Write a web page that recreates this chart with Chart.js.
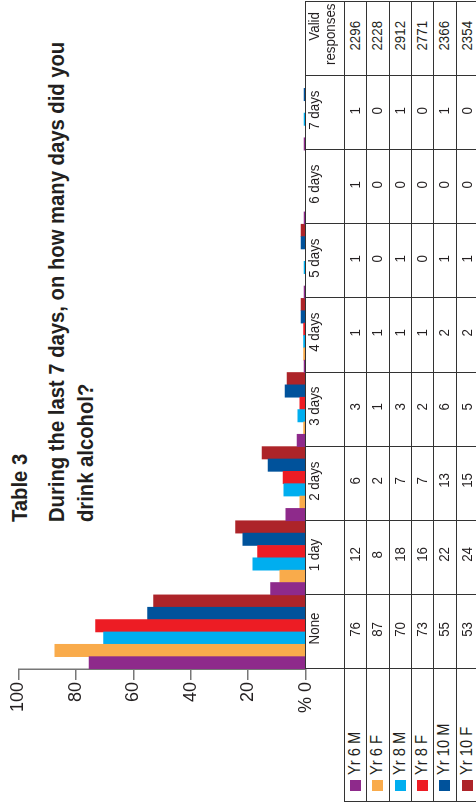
<!DOCTYPE html>
<html>
<head>
<meta charset="utf-8">
<script src="https://cdn.jsdelivr.net/npm/chart.js@4.4.0/dist/chart.umd.min.js"></script>
<style>
html, body { margin: 0; padding: 0; background: #fff; overflow: hidden; }
body { width: 476px; height: 807px; position: relative; }
/* the whole sheet is laid out landscape, then turned a quarter to the left */
#page {
  position: absolute; left: 0; top: 807px;
  width: 807px; height: 476px;
  transform-origin: 0 0; transform: rotate(-90deg);
  font-family: "Liberation Sans", Arial, sans-serif;
  color: #231f20;
}
#page div { position: absolute; white-space: nowrap; }
/* source face is a condensed sans, so squeeze the text a bit */
.title { font-weight: bold; font-size: 22px; transform: scaleX(0.92); transform-origin: 0 0; }
#chart { position: absolute; left: 80px; top: 0; }
.line { background: #333; }
.cell { font-size: 15.5px; text-align: center; }
.cell span { display: inline-block; transform: scaleX(0.86); }
.cell.left { font-size: 16px; }
.cell.left span { transform-origin: 0 50%; transform: scaleX(0.92); }
</style>
</head>
<body>
<div id="page">
  <div class="title" style="left:285px; top:9px; line-height:22px;">Table 3</div>
  <div class="title" style="left:285px; top:42px; line-height:29px;">During the last 7 days, on how many days did you<br>drink alcohol?</div>
  <canvas id="chart" width="651" height="320"></canvas>
</div>
<script>
var FONT = '"Liberation Sans", Arial, sans-serif';

var categories = ["None", "1 day", "2 days", "3 days", "4 days", "5 days", "6 days", "7 days"];
var groups = ["Yr 6 M", "Yr 6 F", "Yr 8 M", "Yr 8 F", "Yr 10 M", "Yr 10 F"];
var colours = ["#8e2a8b", "#f9ab4b", "#00aeef", "#ed1c24", "#00529b", "#ad2429"];

// bar lengths in %
var yr6M  = [75.4, 12.2,  6.9, 3.0, 0.6, 0.6, 0.6, 0.6];
var yr6F  = [87.3,  9.0,  2.0, 0.7, 0.7, 0,   0,   0];
var yr8M  = [70.3, 18.4,  7.6, 2.7, 0.7, 0.6, 0,   0.6];
var yr8F  = [73.1, 16.7,  7.9, 2.0, 0.7, 0,   0,   0];
var yr10M = [55.0, 21.9, 13.1, 7.2, 1.6, 1.6, 0,   0.6];
var yr10F = [52.9, 24.4, 15.2, 6.5, 1.6, 1.6, 0,   0];

// figures as printed in the table
var tab6M  = [76, 12,  6, 3, 1, 1, 1, 1];
var tab6F  = [87,  8,  2, 1, 1, 0, 0, 0];
var tab8M  = [70, 18,  7, 3, 1, 1, 0, 1];
var tab8F  = [73, 16,  7, 2, 1, 0, 0, 0];
var tab10M = [55, 22, 13, 6, 2, 1, 0, 1];
var tab10F = [53, 24, 15, 5, 2, 1, 0, 0];
var validResponses = [2296, 2228, 2912, 2771, 2366, 2354];

var yTicks = [0, 20, 40, 60, 80, 100];

var bars = [yr6M, yr6F, yr8M, yr8F, yr10M, yr10F];
var table = [tab6M, tab6F, tab8M, tab8F, tab10M, tab10F];

var page = document.getElementById("page");

function add(cls, x, y, w, h, text, css) {
  var d = document.createElement("div");
  d.className = cls;
  d.style.left = x + "px";
  d.style.top = y + "px";
  if (w != null) d.style.width = w + "px";
  if (h != null) d.style.height = h + "px";
  if (css) d.style.cssText += css;
  if (text != null) {
    var s = document.createElement("span");
    s.textContent = text;
    d.appendChild(s);
  }
  page.appendChild(d);
  return d;
}

// table grid
var colX0 = 138, colW = 74.1;
var headTop = 305, rowTop = 344, rowH = 22.3;
var nCols = categories.length + 1;
var tableRight = colX0 + colW * nCols;

add("line", colX0, headTop, tableRight - colX0, 1);
for (var r = 0; r <= groups.length; r++) {
  add("line", 5, rowTop + rowH * r, tableRight - 5, 1);
}
add("line", 5, rowTop, 1, 200);
for (var c = 0; c <= nCols; c++) {
  add("line", colX0 + colW * c, headTop, 1, 200);
}

// header row
for (var c = 0; c < categories.length; c++) {
  add("cell", colX0 + colW * c + 6, 305, colW - 6, null, categories[c], "line-height:17px;");
}
var vx = colX0 + colW * categories.length;
add("cell", vx + 16, 305, colW - 6, null, "Valid", "line-height:17px;");
add("cell", vx + 6, 321, colW - 6, null, "responses", "line-height:17px;");

// body rows
for (var r = 0; r < groups.length; r++) {
  var y = rowTop + rowH * r;
  add("", 16, y + 6, 11, 11, null, "background:" + colours[r] + ";");
  add("cell left", 32, y, null, rowH, groups[r], "line-height:" + rowH + "px; text-align:left;");
  for (var c = 0; c < categories.length; c++) {
    add("cell", colX0 + colW * c + 6, y, colW - 6, rowH, table[r][c], "line-height:" + rowH + "px;");
  }
  add("cell", vx + 6, y, colW - 6, rowH, validResponses[r], "line-height:" + rowH + "px;");
}

// the chart
new Chart(document.getElementById("chart"), {
  type: "bar",
  data: {
    labels: categories,
    datasets: groups.map(function (g, i) {
      return {
        label: g,
        data: bars[i],
        backgroundColor: colours[i],
        borderWidth: 0,
        barPercentage: 1,
        categoryPercentage: 1
      };
    })
  },
  options: {
    responsive: false,
    animation: false,
    devicePixelRatio: 1,
    layout: { padding: { top: 18.3, bottom: 14.3, left: 0, right: 0 } },
    plugins: { legend: { display: false }, tooltip: { enabled: false } },
    scales: {
      x: { display: false },
      y: {
        min: 0,
        max: 100,
        afterBuildTicks: function (s) {
          s.ticks = yTicks.map(function (v) { return { value: v }; });
        },
        afterFit: function (s) { s.width = 58; },
        ticks: {
          callback: function (v) { return v === 0 ? "% 0" : v; },
          font: { family: FONT, size: 18 },
          color: "#231f20",
          padding: 2
        },
        grid: { drawOnChartArea: false, tickLength: 11, color: "#777", lineWidth: 1.5 },
        border: { color: "#777", width: 1.5 }
      }
    }
  }
});
</script>
</body>
</html>
